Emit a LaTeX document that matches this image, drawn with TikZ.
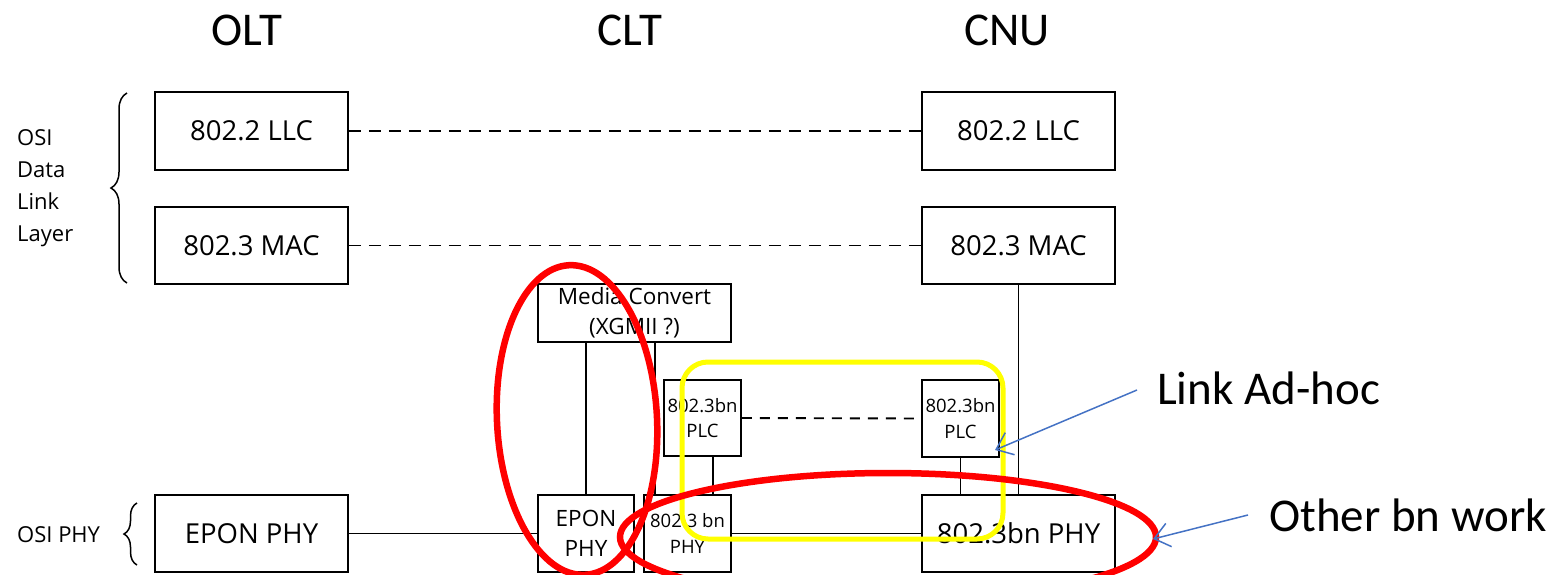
\documentclass[tikz,border=0pt]{standalone}
\usepackage{fontspec}
\setmainfont{Carlito}
\newfontfamily\boxfont{Open Sans}
\usepackage{tikz}
\usepackage{xcolor}
\usetikzlibrary{arrows.meta, positioning, calc, decorations.pathreplacing}

\definecolor{markred}{RGB}{255,0,0}
\definecolor{markyellow}{RGB}{255,255,0}
\definecolor{noteblue}{RGB}{68,114,196}

\begin{document}
\begin{tikzpicture}[x=1pt, y=-1pt,
  box/.style={rectangle, draw, line width=1.9pt, inner sep=0pt, align=center,
    font=\boxfont\fontsize{27.5}{30}\selectfont},
  midbox/.style={box, font=\boxfont\fontsize{22.5}{30}\selectfont},
  smallbox/.style={box, font=\boxfont\fontsize{18.5}{25.5}\selectfont},
  title/.style={inner sep=0pt, font=\fontsize{47}{52}\selectfont},
  side/.style={inner sep=0pt, align=left, anchor=west, font=\boxfont\fontsize{22}{32}\selectfont},
  link/.style={line width=1.9pt},
  peer/.style={line width=1.9pt, dash pattern=on 12pt off 8pt},
  note/.style={draw=noteblue, line width=1.5pt, -{Straight Barb[length=15pt, width=24pt, line width=1.5pt]}}]
\useasboundingbox (0,0) rectangle (1559,574);

% station titles
\node[title] (olt) at (247,30) {OLT};
\node[title] (clt) at (630,30) {CLT};
\node[title] (cnu) at (1007,30) {CNU};

% layer labels
\node[side] (dll) at (17,188) {OSI\\Data\\Link\\Layer};
\node[side] (phy) at (17,535) {OSI PHY};
\draw[line width=1.5pt, decorate, decoration={brace, amplitude=16pt}] (127,283) -- (127,93);
\draw[line width=1.5pt, decorate, decoration={brace, amplitude=13pt}] (137,565) -- (137,503);

% OLT stack
\node[box, minimum width=193pt, minimum height=78pt] (llcO) at (251.5,131) {802.2 LLC};
\node[box, minimum width=193pt, minimum height=77pt] (macO) at (251.5,245.5) {802.3 MAC};
\node[box, minimum width=193pt, minimum height=77pt] (eponO) at (251.5,533.5) {EPON PHY};

% CLT stack
\node[midbox, minimum width=193pt, minimum height=58pt] (mcv) at (634.5,313) {Media Convert\\(XGMII ?)};
\node[midbox, minimum width=96pt, minimum height=77pt] (eponC) at (586,533.5) {EPON\\PHY};
\node[smallbox, minimum width=87pt, minimum height=77pt] (bnphyC) at (687.5,533.5) {802.3 bn\\PHY};
\node[smallbox, minimum width=77pt, minimum height=76pt] (plcC) at (702.5,418) {802.3bn\\PLC};

% CNU stack
\node[box, minimum width=193pt, minimum height=78pt] (llcN) at (1018.5,131) {802.2 LLC};
\node[box, minimum width=193pt, minimum height=77pt] (macN) at (1018.5,245.5) {802.3 MAC};
\node[smallbox, minimum width=77pt, minimum height=77pt] (plcN) at (960.5,418.5) {802.3bn\\PLC};
\node[box, minimum width=193pt, minimum height=77pt] (bnphyN) at (1018.5,533.5) {802.3bn PHY};

% peer links
\draw[peer] (llcO.east) -- (llcN.west);
\draw[peer] (macO.east) -- (macN.west);
\draw[peer, dash pattern=on 10pt off 8pt] (plcC.east) -- (plcN.west);

% physical links
\draw[link] (eponO.east) -- (eponC.west);
\draw[link] (bnphyC.east) -- (bnphyN.west);
\draw[link] (mcv.south -| eponC) -- (eponC.north);
\draw[link] ([xshift=20.5pt]mcv.south) -- ([xshift=20.5pt]mcv.south |- bnphyC.north);
\draw[link] ([xshift=10.5pt]plcC.south) -- ([xshift=10.5pt]plcC.south |- bnphyC.north);
\draw[link] (plcN.south) -- (plcN.south |- bnphyN.north);
\draw[link] (macN.south) -- (bnphyN.north);

% markings
\draw[markyellow, line width=5pt, rounded corners=26pt] (682,362) rectangle (1003,539);
\draw[markred, line width=6.5pt, rotate around={3:(577,420)}] (577,420) ellipse [x radius=80, y radius=155];
\draw[markred, line width=6.5pt] (888,537) ellipse [x radius=268, y radius=64];

% notes
\node[title, anchor=west] (lah) at (1157,388) {Link Ad-hoc};
\node[title, anchor=west] (obw) at (1269,515) {Other bn work};
\coordinate (lahtip) at (995,450);
\coordinate (obwtip) at (1153,539);
\draw[note] ([xshift=-20pt, yshift=-2pt]lah.west) -- (lahtip);
\draw[note] ([xshift=-21pt]obw.west) -- (obwtip);
\end{tikzpicture}
\end{document}
